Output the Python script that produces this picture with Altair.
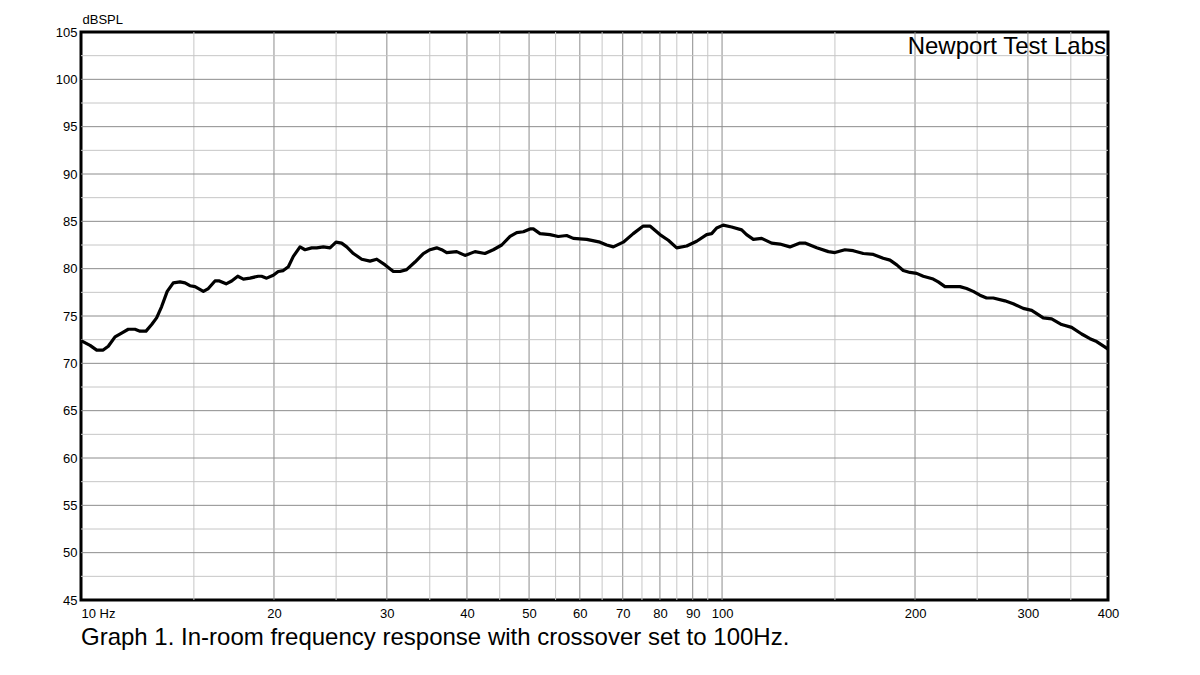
import altair as alt
import pandas as pd

# Frequency (Hz) and level (dB SPL)
freq = [10.0, 10.33, 10.58, 10.83, 11.03, 11.30, 11.57, 11.85, 12.14, 12.36, 12.63, 12.89,
        13.12, 13.36, 13.63, 13.93, 14.27, 14.53, 14.79, 15.06, 15.52, 15.80, 16.18, 16.44,
        16.84, 17.18, 17.56, 17.92, 18.35, 18.90, 19.13, 19.48, 19.95, 20.31, 20.68, 21.06,
        21.44, 21.96, 22.36, 22.90, 23.32, 23.88, 24.46, 24.99, 25.50, 25.97, 26.60, 27.41,
        28.24, 28.93, 29.81, 30.71, 31.45, 32.21, 33.19, 34.20, 35.03, 35.88, 36.53, 37.19,
        38.55, 39.72, 41.17, 42.67, 43.97, 45.32, 46.70, 47.83, 48.98, 50.17, 50.77, 52.00,
        53.90, 55.53, 57.23, 58.61, 61.50, 64.5, 66.07, 67.68, 70.13, 72.69, 75.35, 77.18,
        80.00, 82.45, 84.97, 88.07, 91.29, 94.62, 96.34, 98.08, 100.4, 103.5, 107.3, 109.2,
        111.9, 115.3, 119.5, 123.1, 127.6, 132.3, 134.7, 140.5, 146.5, 150.0, 155.5, 160.2,
        166.1, 172.2, 178.4, 182.8, 187.3, 191.7, 196.4, 201.2, 206.0, 213.5, 217.4, 222.7,
        235.0, 240.7, 246.5, 252.5, 258.6, 264.9, 276.2, 284.6, 295.0, 304.1, 317.0, 326.7,
        338.6, 351.0, 363.9, 374.9, 384.0, 398.0, 400.0]
spl = [72.4, 71.9, 71.4, 71.4, 71.8, 72.8, 73.2, 73.6, 73.6, 73.4, 73.4, 74.1,
       74.8, 76.0, 77.6, 78.5, 78.6, 78.5, 78.2, 78.1, 77.6, 77.9, 78.7, 78.7,
       78.4, 78.7, 79.2, 78.9, 79.0, 79.2, 79.2, 79.0, 79.3, 79.7, 79.8, 80.2,
       81.3, 82.3, 82.0, 82.2, 82.2, 82.3, 82.2, 82.8, 82.7, 82.3, 81.6, 81.0,
       80.8, 81.0, 80.4, 79.7, 79.7, 79.9, 80.7, 81.6, 82.0, 82.2, 82.0, 81.7,
       81.8, 81.4, 81.8, 81.6, 82.0, 82.5, 83.4, 83.8, 83.9, 84.2, 84.2, 83.7,
       83.6, 83.4, 83.5, 83.2, 83.1, 82.8, 82.5, 82.3, 82.8, 83.7, 84.5, 84.5,
       83.6, 83.0, 82.2, 82.4, 82.9, 83.6, 83.7, 84.3, 84.6, 84.4, 84.1, 83.6,
       83.1, 83.2, 82.7, 82.6, 82.3, 82.7, 82.7, 82.2, 81.8, 81.7, 82.0, 81.9,
       81.6, 81.5, 81.1, 80.9, 80.4, 79.8, 79.6, 79.5, 79.2, 78.9, 78.6, 78.1,
       78.1, 77.9, 77.6, 77.2, 76.9, 76.9, 76.6, 76.3, 75.8, 75.6, 74.8, 74.7,
       74.1, 73.8, 73.1, 72.6, 72.3, 71.6, 71.5]

x_ticks = [10, 20, 30, 40, 50, 60, 70, 80, 90, 100, 200, 300, 400]
y_ticks = [45, 50, 55, 60, 65, 70, 75, 80, 85, 90, 95, 100, 105]
major_hz = [20, 30, 40, 50, 60, 70, 80, 90, 100, 200, 300]
minor_hz = [15, 25, 35, 45, 55, 65, 75, 85, 95, 150, 250, 350]
major_db = [50, 55, 60, 65, 70, 75, 80, 85, 90, 95, 100]
minor_db = [47.5, 52.5, 57.5, 62.5, 67.5, 72.5, 77.5, 82.5, 87.5, 92.5, 97.5, 102.5]

FONT = "Liberation Sans"

xs = alt.Scale(type="log", domain=[10, 400], nice=False)
ys = alt.Scale(domain=[45, 105], nice=False)

x_axis = alt.Axis(
    values=x_ticks, grid=False, ticks=False, domain=False, title=None,
    labelExpr="datum.value == 10 ? '10  Hz' : datum.label",
    labelAlign={"condition": {"test": "datum.value == 10", "value": "left"}, "value": "center"},
    labelFont=FONT, labelFontSize=13, labelColor="black", labelPadding=7, labelFlush=False,
    labelOverlap=False)
y_axis = alt.Axis(
    values=y_ticks, grid=False, ticks=False, domain=False, title="dBSPL",
    titleAngle=0, titleAlign="left", titleBaseline="alphabetic", titleX=1, titleY=-9,
    titleFont=FONT, titleFontSize=13, titleFontWeight="normal", titleColor="black",
    labelFont=FONT, labelFontSize=13, labelColor="black", labelPadding=4,
    labelOverlap=False)

X = alt.X("f:Q", scale=xs, axis=x_axis)
Y = alt.Y("db:Q", scale=ys, axis=y_axis)

df = pd.DataFrame({"f": freq, "db": spl})

minor_v = alt.Chart(pd.DataFrame({"f": minor_hz})).mark_rule(color="#c6c6c6", strokeWidth=1).encode(x=X)
major_v = alt.Chart(pd.DataFrame({"f": major_hz})).mark_rule(color="#8c8c8c", strokeWidth=1).encode(x=X)
minor_h = alt.Chart(pd.DataFrame({"db": minor_db})).mark_rule(color="#c6c6c6", strokeWidth=1).encode(y=Y)
major_h = alt.Chart(pd.DataFrame({"db": major_db})).mark_rule(color="#8c8c8c", strokeWidth=1).encode(y=Y)

line = alt.Chart(df).mark_line(color="black", strokeWidth=3.2, strokeJoin="round").encode(x=X, y=Y)

brand = alt.Chart(pd.DataFrame({"t": ["Newport Test Labs"]})).mark_text(
    align="right", baseline="alphabetic", font=FONT, fontSize=24, color="black"
).encode(x=alt.value(1025), y=alt.value(22), text="t:N")

chart = alt.layer(minor_v, major_v, minor_h, major_h, line, brand).properties(
    width=1027, height=568,
    autosize=alt.AutoSizeParams(type="none"),
    padding={"left": 81, "top": 32, "right": 92, "bottom": 75},
    title=alt.TitleParams(
        "Graph 1. In-room frequency response with crossover set to 100Hz.",
        orient="bottom", anchor="start", frame="group", font=FONT, fontSize=24,
        fontWeight="normal", color="black", offset=6),
    background="white",
).configure_view(stroke="black", strokeWidth=3)

chart.save("out.html", embed_options={"renderer": "svg", "actions": False})
